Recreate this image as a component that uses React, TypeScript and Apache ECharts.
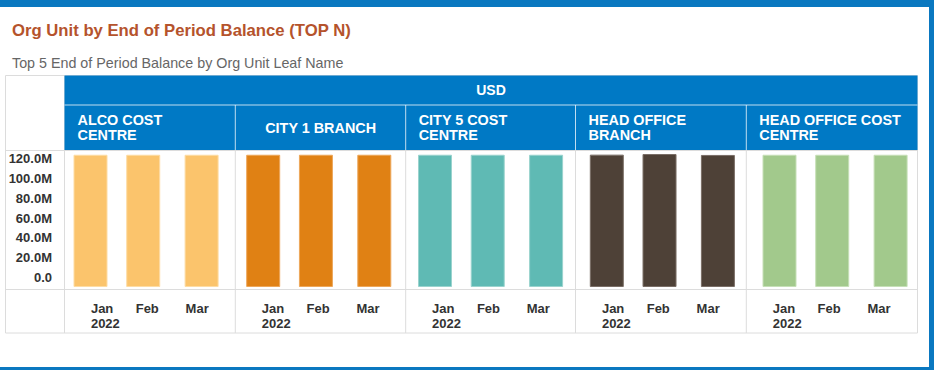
import React, { useEffect, useRef } from 'react';
import * as echarts from 'echarts';

// ---- data ----
const orgUnits = [
  'ALCO COST\nCENTRE',
  'CITY 1 BRANCH',
  'CITY 5 COST\nCENTRE',
  'HEAD OFFICE\nBRANCH',
  'HEAD OFFICE COST\nCENTRE',
];
const periods = ['2022-01-31', '2022-02-28', '2022-03-31'];
const monthLabels = ['Jan\n2022', 'Feb', 'Mar'];
const alcoCostCentre = [125.5e6, 125.5e6, 125.5e6];
const city1Branch = [125.5e6, 125.5e6, 125.5e6];
const city5CostCentre = [125.5e6, 125.5e6, 125.5e6];
const headOfficeBranch = [125.6e6, 126.2e6, 125.3e6];
const headOfficeCostCentre = [125.5e6, 125.5e6, 125.5e6];
const seriesValues = [alcoCostCentre, city1Branch, city5CostCentre, headOfficeBranch, headOfficeCostCentre];
const yTickValues = [0, 20e6, 40e6, 60e6, 80e6, 100e6, 120e6];

// ---- styles / layout ----
const colors = ['#FBC46C', '#E08114', '#5FBAB4', '#4E4137', '#A2C98C'];
const borderColors = ['#FDDCA4', '#EDA75A', '#9AD3CE', '#7A6E66', '#C6DFB7'];
const FONT = '"Liberation Sans", Arial, sans-serif';
const BLUE = '#0079C5';
const FRAME = '#0A78C0';
const GRAY = '#DCDCDC';
const HEADER_LINE = 'rgba(255,255,255,0.75)';
const panelLefts = [64.5, 235.3, 405.7, 575.5, 746.3];
const PANEL_W = 170.7;
const BAR_W = 34;
const barRel = [26, 27.9, 29.3, 31.3, 33.2];
const labelRelDays = [14.02, 37.81, 64.31];
const PX_PER_DAY = 1.883;
const DAY = 86400000;
const ts = (s: string) => Date.parse(s + 'T00:00:00Z');

export default function App() {
  const ref = useRef<HTMLDivElement>(null);
  useEffect(() => {
    if (!ref.current) return;
    const chart = echarts.init(ref.current, undefined, { renderer: 'svg' });

    const grids: any[] = [];
    const xAxes: any[] = [];
    const yAxes: any[] = [];
    const series: any[] = [];
    const spanDays = PANEL_W / PX_PER_DAY;
    // ECharts widens a bar base axis by half a bar on each side; pre-shrink to compensate
    const padDays = BAR_W / 2 / PX_PER_DAY;

    orgUnits.forEach((_, i) => {
      grids.push({ left: panelLefts[i], top: 150, width: PANEL_W, height: 137 });
      const bMin = ts(periods[0]) - (barRel[i] / PX_PER_DAY) * DAY;
      xAxes.push({
        type: 'time', gridIndex: i, position: 'bottom',
        min: bMin + padDays * DAY, max: bMin + (spanDays - padDays) * DAY,
        axisLine: { show: false }, axisTick: { show: false }, axisLabel: { show: false }, splitLine: { show: false },
      });
      xAxes.push({
        type: 'value', gridIndex: i, position: 'bottom', min: 0, max: spanDays,
        axisLine: { show: false }, axisTick: { show: false }, splitLine: { show: false },
        axisLabel: {
          customValues: labelRelDays,
          formatter: (v: number) => {
            let best = 0;
            labelRelDays.forEach((d, k) => { if (Math.abs(d - v) < Math.abs(labelRelDays[best] - v)) best = k; });
            return monthLabels[best];
          },
          align: 'left', margin: 14, fontSize: 13, fontWeight: 'bold', color: '#333',
          lineHeight: 15, fontFamily: FONT,
        },
      });
      yAxes.push({ type: 'value', gridIndex: i, min: 0, max: 130e6, show: false, splitLine: { show: false } });
      series.push({
        type: 'bar', name: orgUnits[i].replace('\n', ' '), xAxisIndex: i * 2, yAxisIndex: i,
        barWidth: BAR_W,
        data: periods.map((p, j) => [ts(p), seriesValues[i][j]]),
        itemStyle: { color: colors[i], borderColor: borderColors[i], borderWidth: 1 },
      });
    });

    grids.push({ left: 56, top: 158.3, width: 8, height: 119.4 });
    xAxes.push({ type: 'value', gridIndex: 5, show: false, min: 0, max: 1 });
    yAxes.push({
      type: 'value', gridIndex: 5, min: 0, max: yTickValues[yTickValues.length - 1], interval: yTickValues[1] - yTickValues[0],
      axisLine: { show: false }, axisTick: { show: false }, splitLine: { show: false },
      axisLabel: {
        margin: 4, fontSize: 13, fontWeight: 'bold', color: '#333', fontFamily: FONT,
        formatter: (v: number) => (v === 0 ? '0.0' : (v / 1e6).toFixed(1) + 'M'),
      },
    });
    series.push({ type: 'scatter', xAxisIndex: xAxes.length - 1, yAxisIndex: 5, data: [] });

    const line = (x1: number, y1: number, x2: number, y2: number, stroke: string) => ({
      type: 'line', silent: true, shape: { x1, y1, x2, y2 }, style: { stroke, lineWidth: 1 },
    });

    const graphic: any[] = [
      { type: 'rect', shape: { x: 0, y: 0, width: 934, height: 7 }, style: { fill: FRAME } },
      { type: 'rect', shape: { x: 929, y: 0, width: 5, height: 370 }, style: { fill: FRAME } },
      { type: 'rect', shape: { x: 0, y: 367, width: 934, height: 3 }, style: { fill: FRAME } },
      {
        type: 'text', x: 12, y: 30,
        style: { text: 'Org Unit by End of Period Balance (TOP N)', font: `bold 16.7px ${FONT}`, fill: '#B5532C', verticalAlign: 'middle' },
      },
      {
        type: 'text', x: 12, y: 63,
        style: { text: 'Top 5 End of Period Balance by Org Unit Leaf Name', font: `14.3px ${FONT}`, fill: '#666', verticalAlign: 'middle' },
      },
      { type: 'rect', shape: { x: 5.5, y: 75.5, width: 912, height: 257.5 }, style: { fill: 'none', stroke: GRAY, lineWidth: 1 } },
      line(64.5, 75.5, 64.5, 333, GRAY),
      line(5.5, 150.5, 917.5, 150.5, GRAY),
      line(5.5, 289.5, 917.5, 289.5, GRAY),
      { type: 'rect', shape: { x: 64.5, y: 75.5, width: 853, height: 74.5 }, style: { fill: BLUE } },
      line(64.5, 105, 917.5, 105, HEADER_LINE),
      {
        type: 'text', x: (64.5 + 917.5) / 2, y: 90,
        style: { text: 'USD', font: `bold 14px ${FONT}`, fill: '#fff', align: 'center', verticalAlign: 'middle' },
      },
    ];
    panelLefts.forEach((x, i) => {
      if (i > 0) {
        graphic.push(line(x, 105, x, 150, HEADER_LINE));
        graphic.push(line(x, 151, x, 333, GRAY));
      }
      const multi = orgUnits[i].includes('\n');
      graphic.push({
        type: 'text',
        x: multi ? x + 13 : x + PANEL_W / 2,
        y: 127.5,
        style: {
          text: orgUnits[i], font: `bold 14.4px ${FONT}`, fill: '#fff', lineHeight: 15,
          align: multi ? 'left' : 'center', verticalAlign: 'middle',
        },
      });
    });

    chart.setOption({
      animation: false,
      backgroundColor: '#fff',
      grid: grids,
      xAxis: xAxes,
      yAxis: yAxes,
      series,
      graphic,
    });
    return () => chart.dispose();
  }, []);
  return <div ref={ref} style={{ position: 'fixed', left: 0, top: 0, width: 934, height: 370 }} />;
}
